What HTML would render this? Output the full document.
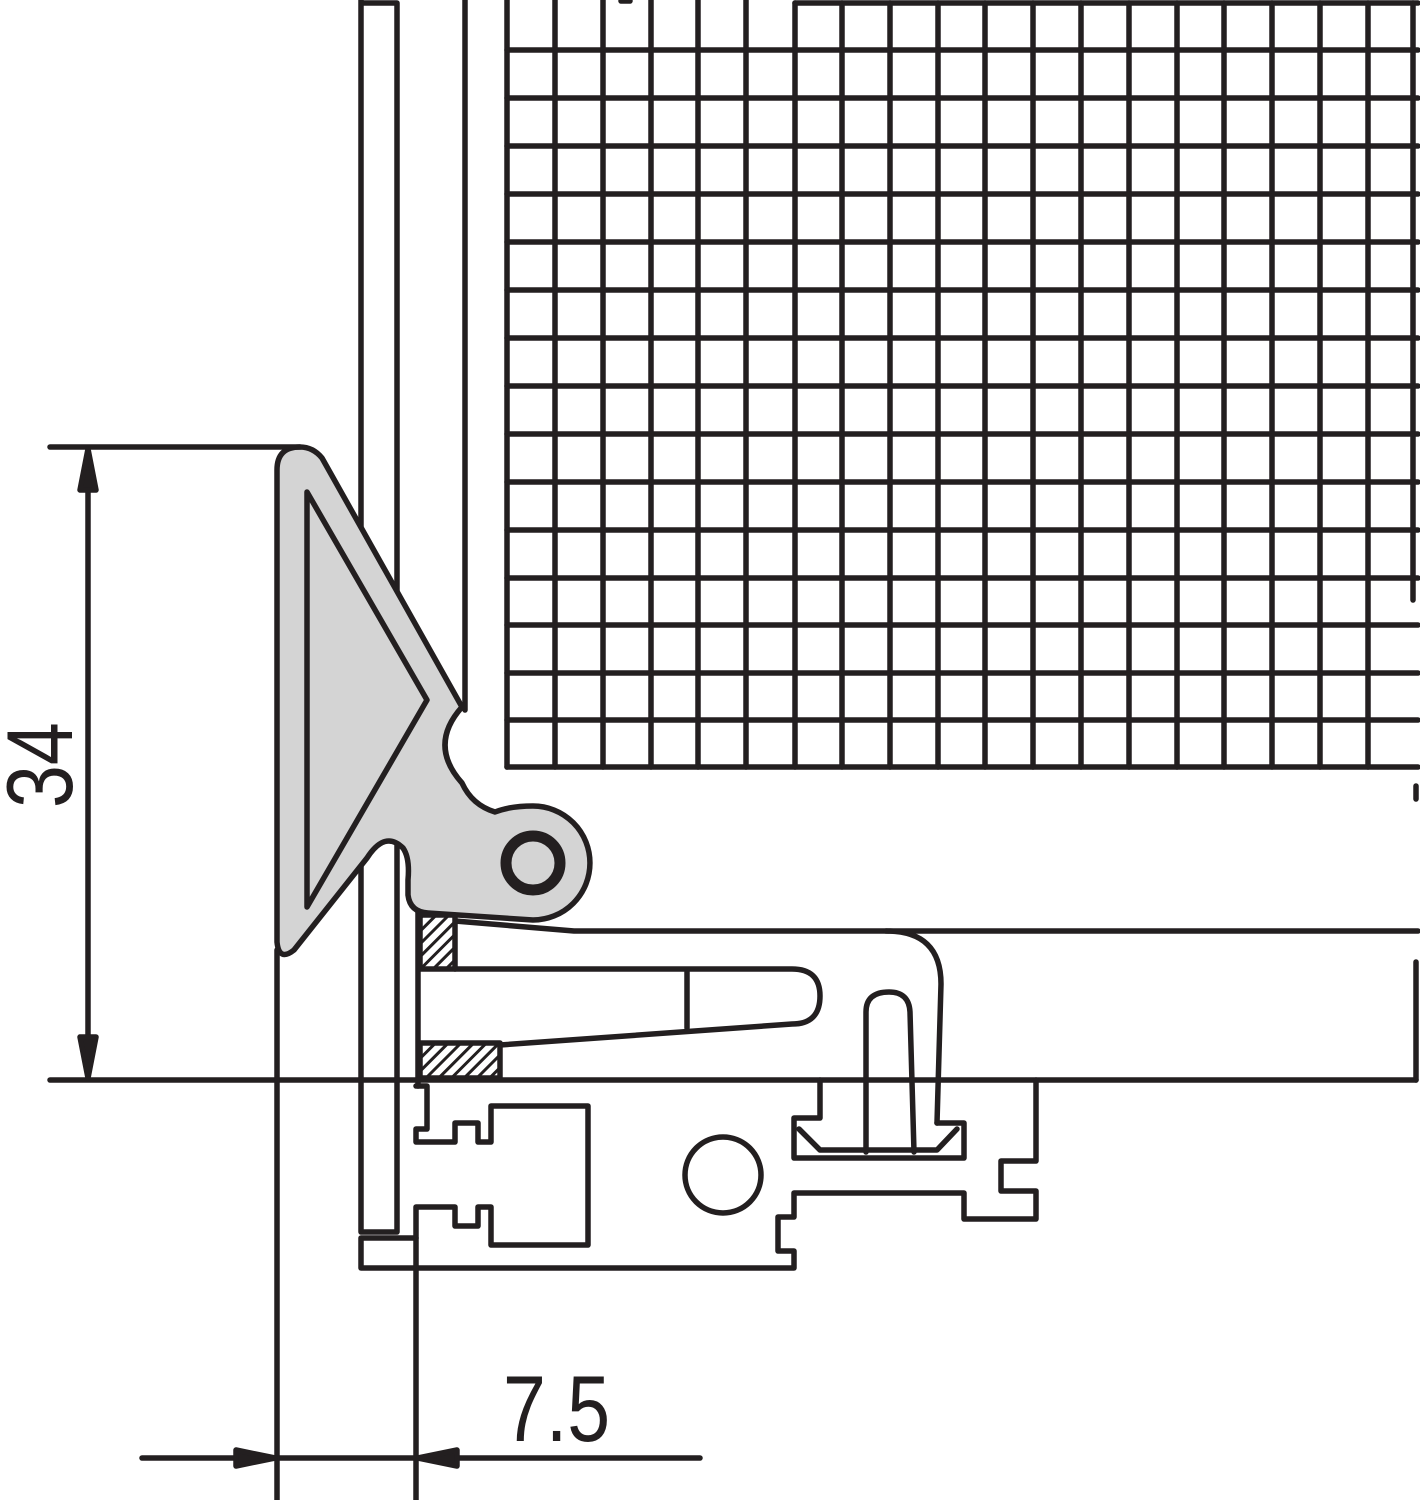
<!DOCTYPE html>
<html><head><meta charset="utf-8"><style>html,body{margin:0;padding:0;background:#fff}svg{display:block}</style></head>
<body>
<svg width="1420" height="1500" viewBox="0 0 1420 1500" xmlns="http://www.w3.org/2000/svg">
<defs>
<pattern id="h" width="9" height="9" patternUnits="userSpaceOnUse" patternTransform="rotate(45)">
<rect width="9" height="9" fill="#fff"/><rect x="0" y="0" width="3" height="9" fill="#231f20"/>
</pattern>
</defs>
<g stroke="#231f20" stroke-width="5.5" fill="none" stroke-linecap="round" stroke-linejoin="round">
<g>
<line x1="507" y1="0" x2="507" y2="767"/>
<line x1="555" y1="0" x2="555" y2="767"/>
<line x1="603" y1="0" x2="603" y2="767"/>
<line x1="651" y1="0" x2="651" y2="767"/>
<line x1="698" y1="0" x2="698" y2="767"/>
<line x1="746" y1="0" x2="746" y2="767"/>
<line x1="795" y1="3" x2="795" y2="767"/>
<line x1="842" y1="3" x2="842" y2="767"/>
<line x1="890" y1="3" x2="890" y2="767"/>
<line x1="938" y1="3" x2="938" y2="767"/>
<line x1="985" y1="3" x2="985" y2="767"/>
<line x1="1033" y1="3" x2="1033" y2="767"/>
<line x1="1081" y1="3" x2="1081" y2="767"/>
<line x1="1129" y1="3" x2="1129" y2="767"/>
<line x1="1177" y1="3" x2="1177" y2="767"/>
<line x1="1224" y1="3" x2="1224" y2="767"/>
<line x1="1272" y1="3" x2="1272" y2="767"/>
<line x1="1320" y1="3" x2="1320" y2="767"/>
<line x1="1368" y1="3" x2="1368" y2="767"/>
<line x1="1413" y1="3" x2="1413" y2="600"/>
<line x1="795" y1="3" x2="1418" y2="3"/>
<line x1="507" y1="50" x2="1418" y2="50"/>
<line x1="507" y1="98" x2="1418" y2="98"/>
<line x1="507" y1="146" x2="1418" y2="146"/>
<line x1="507" y1="194" x2="1418" y2="194"/>
<line x1="507" y1="242" x2="1418" y2="242"/>
<line x1="507" y1="290" x2="1418" y2="290"/>
<line x1="507" y1="338" x2="1418" y2="338"/>
<line x1="507" y1="386" x2="1418" y2="386"/>
<line x1="507" y1="434" x2="1418" y2="434"/>
<line x1="507" y1="482" x2="1418" y2="482"/>
<line x1="507" y1="530" x2="1418" y2="530"/>
<line x1="507" y1="578" x2="1418" y2="578"/>
<line x1="507" y1="625" x2="1418" y2="625"/>
<line x1="507" y1="673" x2="1418" y2="673"/>
<line x1="507" y1="720" x2="1418" y2="720"/>
<line x1="507" y1="767" x2="1418" y2="767"/>
<line x1="1416" y1="786" x2="1416" y2="799"/>
<line x1="621" y1="1" x2="630" y2="1"/>
</g>
<path d="M361 0 L361 1232 L397 1232 L397 3 L361 3"/>
<line x1="465" y1="0" x2="465" y2="710"/>
<line x1="418" y1="905" x2="418" y2="1086"/>
<path fill="#d4d4d4" d="M300 447 Q277 447 277 470 L277 942 Q279 962 294 950 L367 858 Q385 830 403 848 Q410 858 408 880 L408 895 Q410 912 428 913 L533 920 A57 57 0 0 0 533 806 Q510 806 495 812 Q472 805 462 783 Q428 745 462 707 L322 458 Q313 447 300 447 Z"/>
<path d="M307 492 L427 700 L307 907 Z"/>
<circle cx="533" cy="863" r="27" stroke-width="11"/>
<path d="M455 921 L574 931 L886 931 Q941 931 941 984 L937 1123"/>
<line x1="886" y1="931" x2="1418" y2="931"/>
<path d="M455 969 L792 969 Q820 969 820 996 Q820 1024 792 1024 L500 1045"/>
<line x1="687" y1="972" x2="687" y2="1028"/>
<rect x="420" y="915" width="35" height="54" fill="url(#h)"/>
<rect x="420" y="1043" width="80" height="35" fill="url(#h)"/>
<path d="M866 1152 L866 1012 Q866 992 889 992 Q909 992 910 1012 L914 1152"/>
<line x1="50" y1="1080" x2="1416" y2="1080"/>
<path d="M1416 962 L1416 1080"/>
<path d="M820 1080 L820 1118 L794 1118 L794 1158 L964 1158 L964 1123 L937 1123"/>
<path d="M799 1129 L820 1150 L937 1150 L957 1129"/>
<path d="M1036 1080 L1036 1161 L1001 1161 L1001 1191 L1036 1191 L1036 1219 L964 1219 L964 1193 L794 1193 L794 1217 L778 1217 L778 1251 L794 1251 L794 1268 L361 1268 L361 1238 L416 1238"/>
<path d="M416 1086 L427 1086 L427 1129 L416 1129 L416 1142 L455 1142 L455 1123 L478 1123 L478 1142 L491 1142 L491 1106 L588 1106 L588 1245 L491 1245 L491 1207 L478 1207 L478 1226 L455 1226 L455 1207 L416 1207 L416 1500"/>
<circle cx="723" cy="1175" r="38"/>
<line x1="50" y1="447" x2="300" y2="447"/>
<line x1="88" y1="452" x2="88" y2="1075"/>
<path d="M88 449 L80 490 L96 490 Z" fill="#231f20"/>
<path d="M88 1078 L80 1037 L96 1037 Z" fill="#231f20"/>
<line x1="277" y1="950" x2="277" y2="1500"/>
<line x1="142" y1="1458" x2="700" y2="1458"/>
<path d="M275 1458 L236 1450 L236 1466 Z" fill="#231f20"/>
<path d="M418 1458 L457 1450 L457 1466 Z" fill="#231f20"/>
</g>
<text transform="translate(72,808) rotate(-90) scale(0.82,1)" font-family="Liberation Sans, sans-serif" font-size="94" fill="#231f20">34</text>
<text transform="translate(503,1441) scale(0.82,1)" font-family="Liberation Sans, sans-serif" font-size="94" fill="#231f20">7.5</text>
</svg>
</body></html>
